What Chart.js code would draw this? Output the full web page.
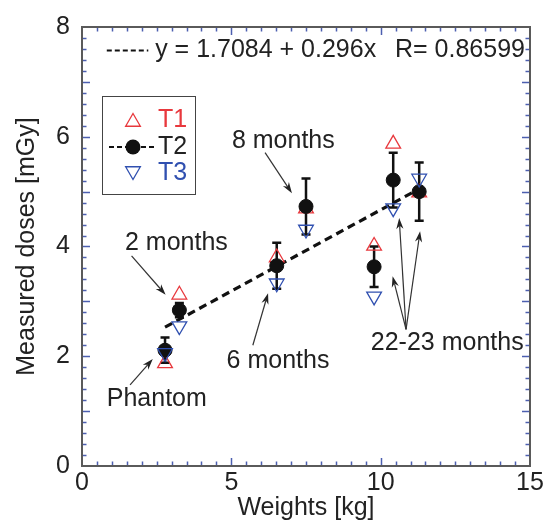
<!DOCTYPE html>
<html>
<head>
<meta charset="utf-8">
<script src="https://cdn.jsdelivr.net/npm/chart.js@4.4.1/dist/chart.umd.min.js"></script>
<style>
  html, body { margin: 0; padding: 0; background: #fff; }
  #wrap { width: 549px; height: 521px; position: relative; }
</style>
</head>
<body>
<div id="wrap"><canvas id="dose-chart"></canvas></div>
<script>
// Measured doses vs weight — T1/T2/T3, T2 error bars, linear fit

const weights  = [2.78, 3.26, 6.52, 7.50, 9.78, 10.42, 11.29];
const t1Doses  = [1.87, 3.12, 3.80, 4.69, 4.01, 5.87, 4.98];
const t2Doses  = [2.11, 2.84, 3.65, 4.73, 3.63, 5.21, 5.00];
const t2Errors = [0.23, 0.13, 0.42, 0.51, 0.37, 0.50, 0.53];
const t3Doses  = [2.06, 2.55, 3.33, 4.31, 3.09, 4.70, 5.24];

const fitX = [2.78, 11.29];
const fitY = [2.53, 5.05];
const fitLabel = 'y = 1.7084 + 0.296x';
const rLabel = 'R= 0.86599';

const xTicks = [0, 5, 10, 15];
const yTicks = [0, 2, 4, 6, 8];

const FONT = "'Liberation Sans', Arial, sans-serif";
const FS = 25;
const RED = '#e8383d';
const BLUE = '#3050b0';
const TICK_BLUE = '#4d5fb0';
const INK = '#222';

// text labels with arrows, in data units
const notes = [
    { text: '2 months', at: [1.44, 4.06], arrows: [[[1.66, 3.83], [2.80, 3.12]]] },
    { text: 'Phantom', at: [0.83, 1.22], arrows: [[[1.61, 1.48], [2.37, 1.95]]] },
    { text: '8 months', at: [5.02, 5.92], arrows: [[[6.13, 5.71], [7.03, 4.97]]] },
    { text: '6 months', at: [4.84, 1.91], arrows: [[[5.72, 2.20], [6.23, 3.15]]] },
    { text: '22-23 months', at: [9.67, 2.24], arrows: [
        [[10.85, 2.49], [10.40, 3.46]],
        [[10.85, 2.49], [10.62, 4.52]],
        [[10.85, 2.49], [11.32, 4.28]],
    ] },
];

function arrow(ctx, x1, y1, x2, y2) {
    const ang = Math.atan2(y2 - y1, x2 - x1);
    const len = 11, half = 3.6;
    const c = Math.cos(ang), s = Math.sin(ang);
    ctx.beginPath();
    ctx.moveTo(x1, y1);
    ctx.lineTo(x2 - c * len * 0.7, y2 - s * len * 0.7);
    ctx.stroke();
    ctx.beginPath();
    ctx.moveTo(x2, y2);
    ctx.lineTo(x2 - c * len - s * half, y2 - s * len + c * half);
    ctx.lineTo(x2 - c * len * 0.7, y2 - s * len * 0.7);
    ctx.lineTo(x2 - c * len + s * half, y2 - s * len - c * half);
    ctx.closePath();
    ctx.fill();
}

function triangle(ctx, x, y, r, down) {
    const d = down ? -1 : 1;
    ctx.beginPath();
    ctx.moveTo(x, y - d * r);
    ctx.lineTo(x + 0.866 * r, y + d * r / 2);
    ctx.lineTo(x - 0.866 * r, y + d * r / 2);
    ctx.closePath();
    ctx.stroke();
}

const errorBars = {
    id: 'errorBars',
    beforeDatasetsDraw(chart) {
        const { ctx, scales: { x, y } } = chart;
        ctx.save();
        ctx.strokeStyle = '#111';
        ctx.lineWidth = 2.5;
        weights.forEach((w, i) => {
            const px = x.getPixelForValue(w);
            const top = y.getPixelForValue(t2Doses[i] + t2Errors[i]);
            const bot = y.getPixelForValue(t2Doses[i] - t2Errors[i]);
            ctx.beginPath();
            ctx.moveTo(px, top); ctx.lineTo(px, bot);
            ctx.moveTo(px - 4.5, top); ctx.lineTo(px + 4.5, top);
            ctx.moveTo(px - 4.5, bot); ctx.lineTo(px + 4.5, bot);
            ctx.stroke();
        });
        ctx.restore();
    },
};

const frame = {
    id: 'frame',
    afterDatasetsDraw(chart) {
        const { ctx, chartArea: a, scales: { x, y } } = chart;
        ctx.save();

        // inner ticks on all four sides
        ctx.strokeStyle = TICK_BLUE;
        ctx.lineWidth = 1.5;
        for (let v = 0.5; v < 15; v += 0.5) {
            const major = Math.abs(v / 5 - Math.round(v / 5)) < 1e-6;
            const len = major ? 8 : 4.5;
            const px = Math.round(x.getPixelForValue(v)) + 0.5;
            ctx.beginPath();
            ctx.moveTo(px, a.bottom); ctx.lineTo(px, a.bottom - len);
            ctx.moveTo(px, a.top); ctx.lineTo(px, a.top + len);
            ctx.stroke();
        }
        for (let v = 0.2; v < 7.99; v += 0.2) {
            const major = Math.abs(v - Math.round(v)) < 1e-6;
            const len = major ? 8 : 4.5;
            const py = Math.round(y.getPixelForValue(v)) + 0.5;
            ctx.beginPath();
            ctx.moveTo(a.left, py); ctx.lineTo(a.left + len, py);
            ctx.moveTo(a.right, py); ctx.lineTo(a.right - len, py);
            ctx.stroke();
        }

        // plot box
        ctx.strokeStyle = '#5a5a5a';
        ctx.lineWidth = 2;
        ctx.strokeRect(a.left, a.top, a.right - a.left, a.bottom - a.top);

        // annotations
        ctx.font = FS + 'px ' + FONT;
        ctx.fillStyle = INK;
        ctx.strokeStyle = '#333';
        ctx.lineWidth = 1.2;
        ctx.textBaseline = 'middle';
        ctx.textAlign = 'left';
        notes.forEach(n => {
            ctx.fillText(n.text, x.getPixelForValue(n.at[0]), y.getPixelForValue(n.at[1]));
            n.arrows.forEach(([from, to]) => {
                arrow(ctx, x.getPixelForValue(from[0]), y.getPixelForValue(from[1]),
                      x.getPixelForValue(to[0]), y.getPixelForValue(to[1]));
            });
        });

        // fit equation with dashed sample
        const eqY = y.getPixelForValue(7.57);
        ctx.strokeStyle = '#111';
        ctx.lineWidth = 2;
        ctx.setLineDash([5, 3]);
        ctx.beginPath();
        ctx.moveTo(x.getPixelForValue(0.83), eqY);
        ctx.lineTo(x.getPixelForValue(2.22), eqY);
        ctx.stroke();
        ctx.setLineDash([]);
        ctx.fillText(fitLabel, x.getPixelForValue(2.45), eqY);
        ctx.fillText(rLabel, x.getPixelForValue(10.48), eqY);

        // legend box
        const lx = a.left + 20, ly = a.top + 69;
        ctx.strokeStyle = '#444';
        ctx.lineWidth = 1;
        ctx.strokeRect(lx + 0.5, ly + 0.5, 93, 98);
        const mx = lx + 31, tx = lx + 56;
        const rows = [ly + 24, ly + 51, ly + 77];

        ctx.lineWidth = 1.3;
        ctx.strokeStyle = RED;
        triangle(ctx, mx, rows[0] + 2, 8.5, false);
        ctx.strokeStyle = BLUE;
        triangle(ctx, mx, rows[2] - 2, 8.5, true);

        ctx.strokeStyle = '#111';
        ctx.lineWidth = 2;
        ctx.setLineDash([5, 3]);
        ctx.beginPath();
        ctx.moveTo(lx + 7, rows[1]); ctx.lineTo(lx + 54, rows[1]);
        ctx.stroke();
        ctx.setLineDash([]);
        ctx.fillStyle = '#111';
        ctx.beginPath();
        ctx.arc(mx, rows[1], 7.5, 0, Math.PI * 2);
        ctx.fill();

        ctx.fillStyle = RED;  ctx.fillText('T1', tx, rows[0]);
        ctx.fillStyle = INK;  ctx.fillText('T2', tx, rows[1]);
        ctx.fillStyle = BLUE; ctx.fillText('T3', tx, rows[2]);

        ctx.restore();
    },
};

const toPoints = ys => weights.map((w, i) => ({ x: w, y: ys[i] }));

new Chart(document.getElementById('dose-chart'), {
    type: 'scatter',
    data: {
        datasets: [
            {
                label: 'T3',
                data: toPoints(t3Doses),
                pointStyle: 'triangle',
                pointRotation: 180,
                pointRadius: 8.5,
                pointBorderWidth: 1.3,
                borderColor: BLUE,
                backgroundColor: 'rgba(0,0,0,0)',
                order: 0,
            },
            {
                label: 'T2',
                data: toPoints(t2Doses),
                pointStyle: 'circle',
                pointRadius: 7,
                pointBorderWidth: 1,
                borderColor: '#111',
                backgroundColor: '#111',
                order: 1,
            },
            {
                label: 'T1',
                data: toPoints(t1Doses),
                pointStyle: 'triangle',
                pointRadius: 8.5,
                pointBorderWidth: 1.3,
                borderColor: RED,
                backgroundColor: 'rgba(0,0,0,0)',
                order: 2,
            },
            {
                label: 'Fit',
                data: fitX.map((v, i) => ({ x: v, y: fitY[i] })),
                showLine: true,
                borderColor: '#111',
                borderWidth: 3.2,
                borderDash: [8, 5],
                pointRadius: 0,
                order: 3,
            },
        ],
    },
    options: {
        responsive: true,
        maintainAspectRatio: false,
        animation: false,
        events: [],
        layout: { padding: { top: 19, right: 19, left: 0, bottom: 0 } },
        plugins: {
            legend: { display: false },
            tooltip: { enabled: false },
        },
        scales: {
            x: {
                type: 'linear',
                min: 0,
                max: 15,
                afterBuildTicks: s => { s.ticks = xTicks.map(v => ({ value: v })); },
                afterFit: s => { s.height = 55; },
                grid: { display: false, drawTicks: false, tickLength: 0 },
                border: { display: false },
                ticks: { color: INK, padding: 2, font: { family: FONT, size: FS } },
                title: {
                    display: true,
                    text: 'Weights [kg]',
                    color: INK,
                    padding: 0,
                    font: { family: FONT, size: FS, lineHeight: 1 },
                },
            },
            y: {
                type: 'linear',
                min: 0,
                max: 8,
                afterBuildTicks: s => { s.ticks = yTicks.map(v => ({ value: v })); },
                afterFit: s => { s.width = 82; },
                grid: { display: false, drawTicks: false, tickLength: 0 },
                border: { display: false },
                ticks: { color: INK, padding: 12, font: { family: FONT, size: FS } },
                title: {
                    display: true,
                    text: 'Measured doses [mGy]',
                    color: INK,
                    padding: { top: 15, bottom: 0 },
                    font: { family: FONT, size: FS, lineHeight: 1 },
                },
            },
        },
    },
    plugins: [errorBars, frame],
});
</script>
</body>
</html>
